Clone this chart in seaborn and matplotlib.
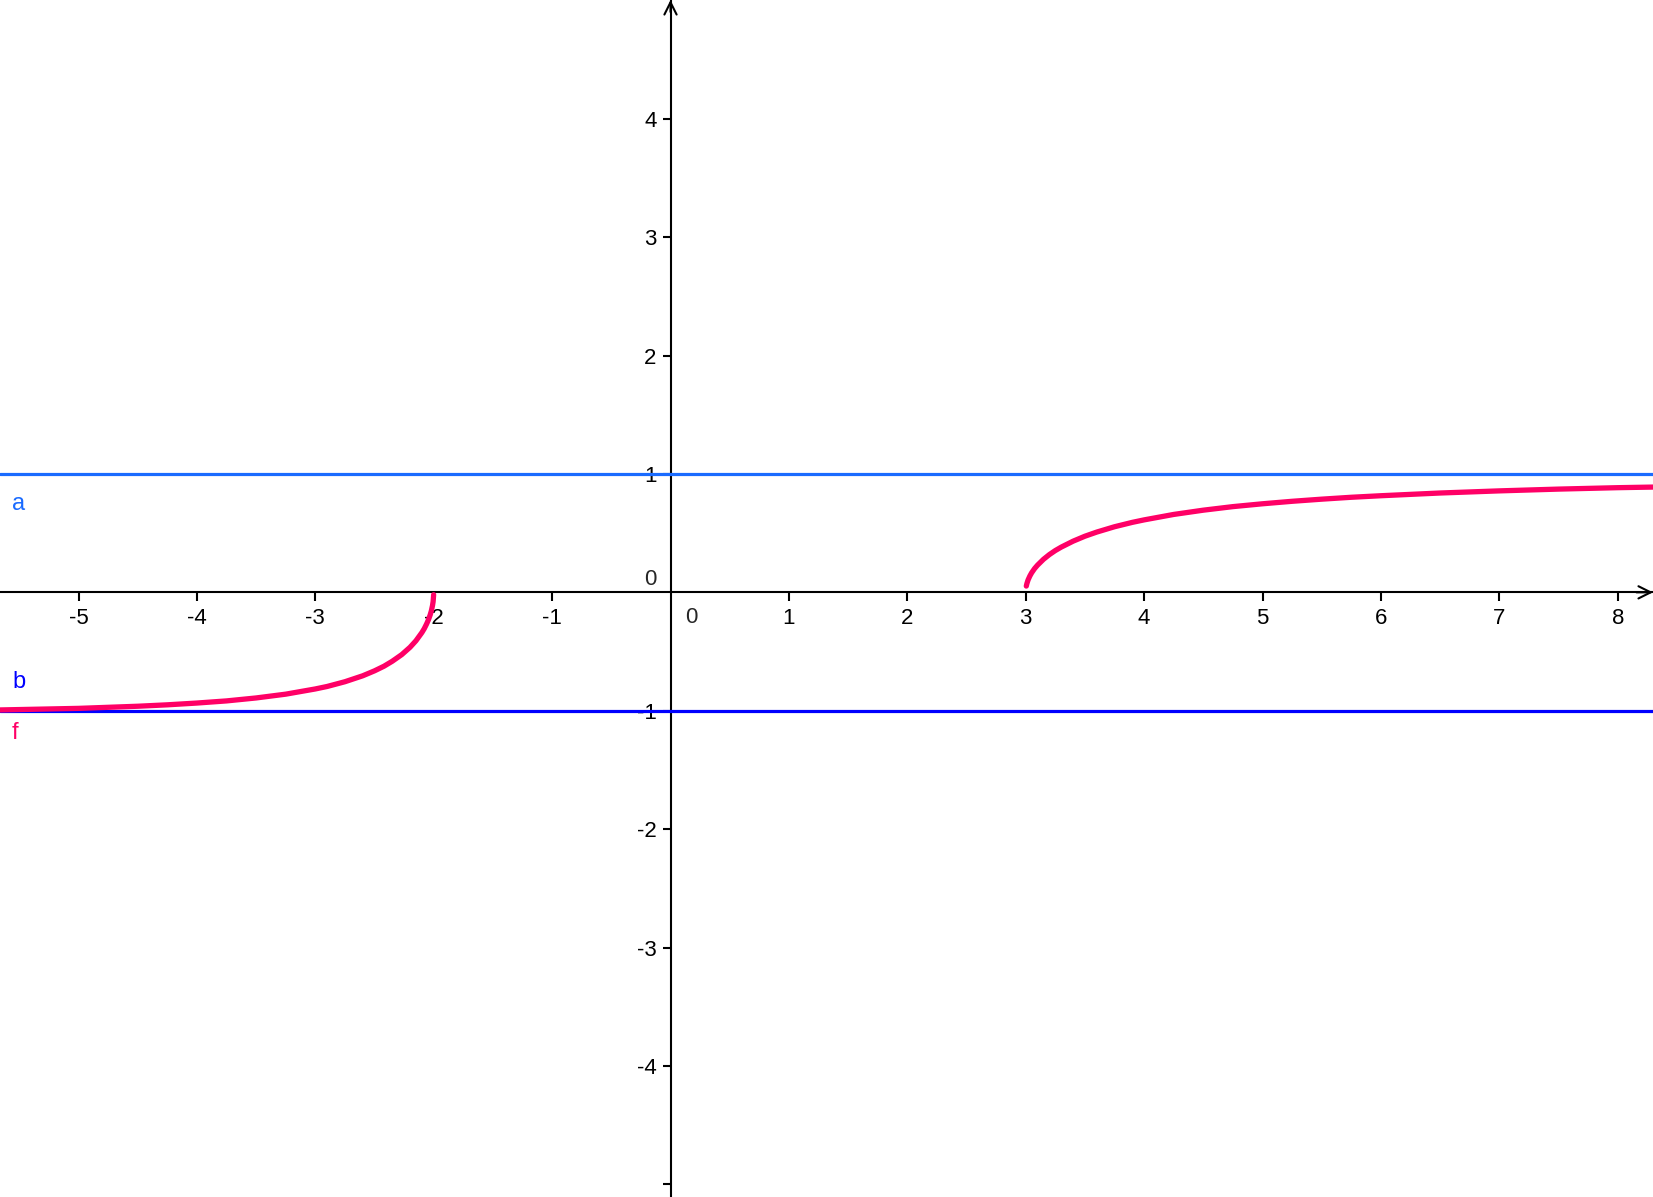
import matplotlib
matplotlib.use("Agg")
import matplotlib.pyplot as plt
import seaborn as sns
import pandas as pd

# ---- data ----
# right branch of f
x_right = [3.005, 3.01, 3.02, 3.035, 3.05, 3.075, 3.1, 3.15, 3.2, 3.25, 3.3, 3.4, 3.5, 3.6, 3.75, 3.9,
           4.0, 4.25, 4.5, 4.75, 5.0, 5.25, 5.5, 5.75, 6.0, 6.5, 7.0, 7.5, 8.0, 8.35]
y_right = [0.053, 0.074, 0.105, 0.138, 0.165, 0.201, 0.230, 0.279, 0.319, 0.353, 0.382, 0.432, 0.474, 0.509, 0.554, 0.591,
           0.612, 0.658, 0.694, 0.724, 0.748, 0.769, 0.787, 0.803, 0.816, 0.839, 0.857, 0.872, 0.884, 0.890]
# left branch of f
x_left = [-5.75, -5.0, -4.5, -4.25, -4.0, -3.75, -3.5, -3.25, -3.0, -2.9, -2.75, -2.6, -2.5, -2.42, -2.35,
          -2.27, -2.2, -2.15, -2.1, -2.08, -2.06, -2.045, -2.03, -2.02, -2.01, -2.005, -2.0005]
y_left = [-0.995, -0.980, -0.962, -0.950, -0.935, -0.917, -0.892, -0.860, -0.816, -0.795, -0.755, -0.705, -0.663, -0.624, -0.582,
          -0.526, -0.464, -0.409, -0.340, -0.307, -0.267, -0.233, -0.191, -0.157, -0.111, -0.079, -0.02]
# horizontal lines
line_a = 1.0
line_b = -1.0
line_labels = ["a", "b", "f"]
x_ticks = [-5, -4, -3, -2, -1, 1, 2, 3, 4, 5, 6, 7, 8]
y_ticks = [-5, -4, -3, -2, -1, 1, 2, 3, 4]
y_tick_labels = ["", "-4", "-3", "-2", "-1", "1", "2", "3", "4"]

# ---- styling ----
sns.set_style("white")
plt.rcParams['font.family'] = ['Liberation Sans', 'DejaVu Sans']

col_a = "#1A6BFF"
col_b = "#0000FF"
col_f = "#FF0066"

fig = plt.figure(figsize=(16.53, 11.97), dpi=100)
ax = fig.add_axes([0, 0, 1, 1])
ax.set_xlim(-5.663, 8.298)
ax.set_ylim(-5.107, 5.003)

# axes through origin
for s in ["top", "right"]:
    ax.spines[s].set_visible(False)
ax.spines["left"].set_position(("data", 0))
ax.spines["bottom"].set_position(("data", 0))
for s in ["left", "bottom"]:
    ax.spines[s].set_linewidth(1.5)
    ax.spines[s].set_color("black")
    ax.spines[s].set_zorder(1)

ax.set_xticks(x_ticks)
ax.set_xticklabels([str(t) for t in x_ticks])
ax.set_yticks(y_ticks)
ax.set_yticklabels(y_tick_labels)
ax.tick_params(axis="x", bottom=True, direction="out", length=6.5, width=1.5, pad=5,
               labelsize=16, colors="black")
ax.tick_params(axis="y", left=True, direction="out", length=6, width=1.5, pad=4,
               labelsize=16, colors="black")

# origin labels
ax.annotate("0", xy=(0, 0), xytext=(-20, 13), textcoords="offset pixels",
            ha="center", va="center", fontsize=16)
ax.annotate("0", xy=(0, 0), xytext=(21, -25), textcoords="offset pixels",
            ha="center", va="center", fontsize=16)

# arrows at the ends of the axes
ax.annotate("", xy=(1, 0), xycoords=("axes fraction", "data"),
            xytext=(0.99, 0), textcoords=("axes fraction", "data"),
            arrowprops=dict(arrowstyle="->", lw=1.5, color="black", mutation_scale=22,
                            shrinkA=0, shrinkB=0),
            annotation_clip=False)
ax.annotate("", xy=(0, 1), xycoords=("data", "axes fraction"),
            xytext=(0, 0.99), textcoords=("data", "axes fraction"),
            arrowprops=dict(arrowstyle="->", lw=1.5, color="black", mutation_scale=22,
                            shrinkA=0, shrinkB=0),
            annotation_clip=False)

# horizontal lines a and b
ax.axhline(line_a, color=col_a, lw=2.3, zorder=2)
ax.axhline(line_b, color=col_b, lw=2.3, zorder=2)

# curve f
df_r = pd.DataFrame({"x": x_right, "y": y_right})
df_l = pd.DataFrame({"x": x_left, "y": y_left})
for df in (df_r, df_l):
    sns.lineplot(data=df, x="x", y="y", ax=ax, color=col_f, lw=3.8, sort=False,
                 solid_capstyle="round", solid_joinstyle="round", zorder=3)
ax.set_xlabel("")
ax.set_ylabel("")

# object labels
ax.annotate(line_labels[0], xy=(0, line_a), xycoords=("axes fraction", "data"),
            xytext=(19, -30), textcoords="offset pixels", ha="center", va="center",
            fontsize=17, color=col_a)
ax.annotate(line_labels[1], xy=(0, line_b), xycoords=("axes fraction", "data"),
            xytext=(19, 29), textcoords="offset pixels", ha="center", va="center",
            fontsize=17, color=col_b)
ax.annotate(line_labels[2], xy=(0, line_b), xycoords=("axes fraction", "data"),
            xytext=(15, -22), textcoords="offset pixels", ha="center", va="center",
            fontsize=17, color=col_f)

fig.savefig("out.png", dpi=100)
